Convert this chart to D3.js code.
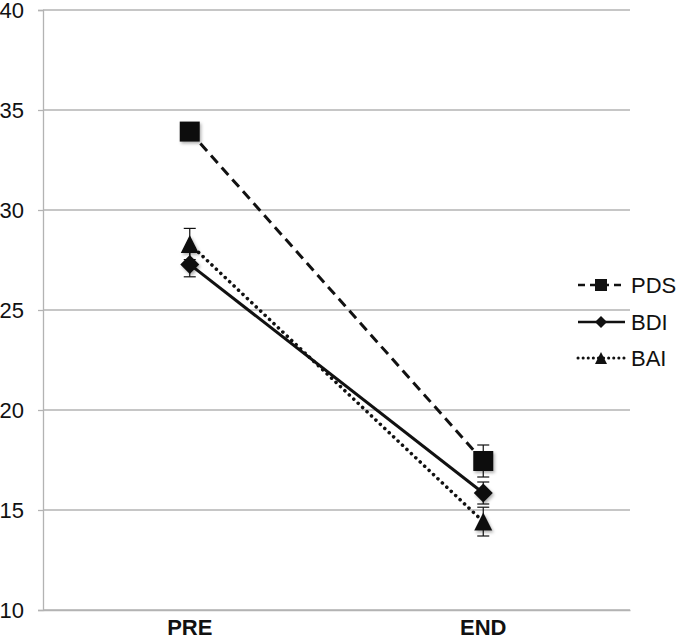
<!DOCTYPE html>
<html>
<head>
<meta charset="utf-8">
<script src="https://cdn.jsdelivr.net/npm/d3@7"></script>
<style>
  html, body { margin: 0; padding: 0; background: #fff; }
  svg { display: block; }
  text { font-family: "Liberation Sans", Arial, sans-serif; }
</style>
</head>
<body>
<svg id="chart" width="677" height="635"></svg>
<script>
const categories = ["PRE", "END"];
const seriesNames = ["PDS", "BDI", "BAI"];
const pdsValues = [33.92, 17.45];
const pdsErrors = [0.4, 0.8];
const bdiValues = [27.28, 15.85];
const bdiErrors = [0.62, 0.55];
const baiValues = [28.3, 14.42];
const baiErrors = [0.78, 0.72];
const yTicks = [10, 15, 20, 25, 30, 35, 40];

const series = [
  { name: "PDS", values: pdsValues, errors: pdsErrors, dash: "10,6", cap: "butt", width: 3, symbol: "square" },
  { name: "BDI", values: bdiValues, errors: bdiErrors, dash: null, cap: "butt", width: 3, symbol: "diamond" },
  { name: "BAI", values: baiValues, errors: baiErrors, dash: "0.1,6", cap: "round", width: 3.5, symbol: "triangle" }
];

const svg = d3.select("#chart");
const mLeft = 43, mRight = 630, mTop = 10, mBottom = 610;

const defs = svg.append("defs");
const f = defs.append("filter").attr("id", "shadow").attr("x", "-50%").attr("y", "-50%").attr("width", "200%").attr("height", "200%");
f.append("feDropShadow").attr("dx", 1.5).attr("dy", 2).attr("stdDeviation", 1.5).attr("flood-color", "#000").attr("flood-opacity", 0.3);

const x = d3.scaleBand().domain(categories).range([mLeft, mRight]);
const y = d3.scaleLinear().domain([10, 40]).range([mBottom, mTop]);
const cx = c => x(c) + x.bandwidth() / 2;

// gridlines
svg.append("g").selectAll("line").data(yTicks).join("line")
  .attr("x1", mLeft).attr("x2", mRight)
  .attr("y1", d => y(d)).attr("y2", d => y(d))
  .attr("stroke", "#b3b3b3").attr("stroke-width", 1.3);

// y axis
const yAxis = svg.append("g").attr("transform", `translate(${mLeft},0)`)
  .call(d3.axisLeft(y).tickValues(yTicks).tickSize(5).tickPadding(14).tickFormat(d3.format("d")));
yAxis.select(".domain").attr("stroke", "#b3b3b3").attr("stroke-width", 1.3);
yAxis.selectAll(".tick line").attr("stroke", "#b3b3b3").attr("stroke-width", 1.3);
yAxis.selectAll(".tick text").attr("font-size", 22).attr("fill", "#111")
  .attr("font-family", "Liberation Sans, Arial, sans-serif");

// x axis
const xAxis = svg.append("g").attr("transform", `translate(0,${mBottom})`)
  .call(d3.axisBottom(x).tickSize(0).tickPadding(0));
xAxis.select(".domain").attr("stroke", "#b3b3b3").attr("stroke-width", 1.3);
xAxis.selectAll(".tick text").attr("font-size", 22).attr("font-weight", "bold").attr("fill", "#111")
  .attr("dy", null).attr("y", 25).attr("font-family", "Liberation Sans, Arial, sans-serif");

const symbolPath = (type, size) => {
  const h = size / 2;
  if (type === "square") return `M${-h},${-h}H${h}V${h}H${-h}Z`;
  if (type === "diamond") return `M0,${-h}L${h},0L0,${h}L${-h},0Z`;
  return `M0,${-h}L${h},${h}L${-h},${h}Z`;
};
const markerSize = { square: 20, diamond: 19, triangle: 18 };

const plot = svg.append("g");
// error bars
series.forEach(s => {
  categories.forEach((c, i) => {
    const v = s.values[i], e = s.errors[i], px = cx(c);
    const g = plot.append("g").attr("stroke", "#111").attr("stroke-width", 1.2);
    g.append("line").attr("x1", px).attr("x2", px).attr("y1", y(v - e)).attr("y2", y(v + e));
    g.append("line").attr("x1", px - 6).attr("x2", px + 6).attr("y1", y(v - e)).attr("y2", y(v - e));
    g.append("line").attr("x1", px - 6).attr("x2", px + 6).attr("y1", y(v + e)).attr("y2", y(v + e));
  });
});
// lines
const line = d3.line().x((d, i) => cx(categories[i])).y(d => y(d));
series.forEach(s => {
  plot.append("path").attr("d", line(s.values))
    .attr("fill", "none").attr("stroke", "#111").attr("stroke-width", s.width)
    .attr("stroke-dasharray", s.dash).attr("stroke-linecap", s.cap);
});
// markers
series.forEach(s => {
  plot.append("g").selectAll("path").data(s.values).join("path")
    .attr("transform", (d, i) => `translate(${cx(categories[i])},${y(d)})`)
    .attr("d", symbolPath(s.symbol, markerSize[s.symbol]))
    .attr("fill", "#111").attr("filter", "url(#shadow)");
});

// legend
const legend = svg.append("g");
const legY = [285, 322, 358];
series.forEach((s, i) => {
  const g = legend.append("g").attr("transform", `translate(0,${legY[i]})`);
  g.append("line").attr("x1", 578).attr("x2", 625).attr("y1", 0).attr("y2", 0)
    .attr("stroke", "#111").attr("stroke-width", s.width - 0.5)
    .attr("stroke-dasharray", s.name === "PDS" ? "7,5" : (s.name === "BAI" ? "0.1,5" : null))
    .attr("stroke-linecap", s.cap);
  g.append("path").attr("transform", "translate(601,0)")
    .attr("d", symbolPath(s.symbol, 12))
    .attr("fill", "#111");
  g.append("text").attr("x", 631).attr("y", 0).attr("dy", "0.35em")
    .attr("font-size", 22).attr("fill", "#111").text(s.name);
});
</script>
</body>
</html>
